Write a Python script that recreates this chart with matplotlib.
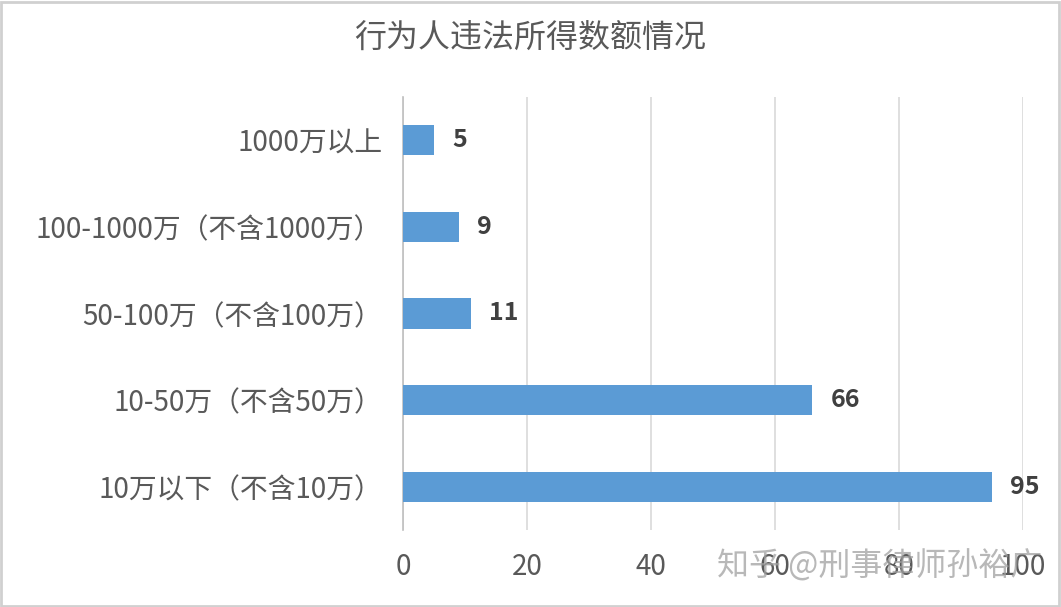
import matplotlib
matplotlib.use("Agg")
import matplotlib.pyplot as plt
from matplotlib.patches import Rectangle

plt.rcParams['font.family'] = ['Noto Sans CJK SC', 'DejaVu Sans']

# Data (bottom to top)
categories = ["10万以下（不含10万）", "10-50万（不含50万）", "50-100万（不含100万）",
              "100-1000万（不含1000万）", "1000万以上"]
counts = [95, 66, 11, 9, 5]
xticks = [0, 20, 40, 60, 80, 100]

title = "行为人违法所得数额情况"
watermark = "知乎 @刑事律师孙裕广"

fig = plt.figure(figsize=(10.61, 6.07), dpi=100)
ax = fig.add_axes([403 / 1061, 1 - 530 / 607, 620 / 1061, 433 / 607])

y = range(len(categories))
ax.barh(y, counts, height=0.35, color="#5B9BD5", zorder=3)

for yi, v in zip(y, counts):
    ax.annotate(str(v), (v, yi), xytext=(13, 0), textcoords="offset points",
                ha="left", va="center", fontsize=18, fontweight="bold",
                color="#404040")

ax.set_xlim(0, 100)
ax.set_ylim(-0.5, 4.5)
ax.set_xticks(xticks)
ax.set_yticks(list(y))
ax.set_yticklabels(categories)
ax.tick_params(axis="both", length=0, labelsize=20, labelcolor="#595959")
ax.tick_params(axis="y", pad=15)
ax.tick_params(axis="x", pad=16)
ax.grid(axis="x", color="#D9D9D9", linewidth=1.2, zorder=0)

for s in ["top", "right", "bottom"]:
    ax.spines[s].set_visible(False)
ax.spines["left"].set_color("#BFBFBF")
ax.spines["left"].set_linewidth(1.2)

fig.text(0.5, 1 - 38 / 607, title, ha="center", va="center",
         fontsize=23, color="#595959")

# watermark
fig.text(1042 / 1061, 1 - 566 / 607, watermark, ha="right", va="center",
         fontsize=23, color="#A0A0A0", alpha=0.75)

# outer border
fig.patches.append(Rectangle((0.001, 0.002), 0.997, 0.994, transform=fig.transFigure,
                             fill=False, edgecolor="#D0D0D0", linewidth=2))

fig.savefig("out.png", dpi=100)
